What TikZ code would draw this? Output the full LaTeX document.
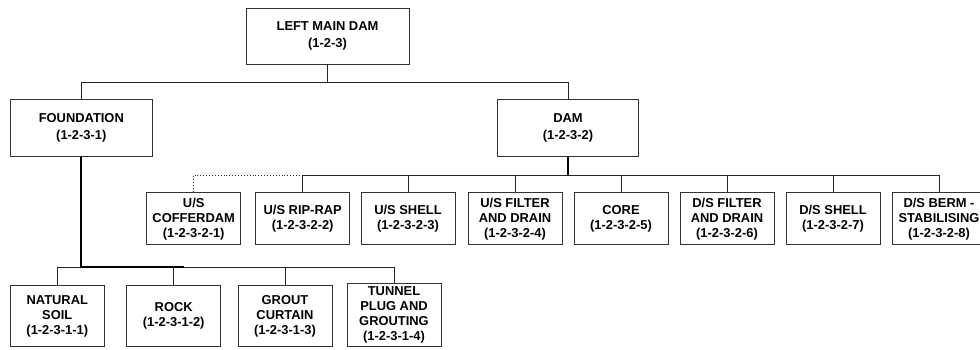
\documentclass[tikz,border=0pt]{standalone}
\usepackage{fontspec}
\setmainfont{Liberation Sans}
\usepackage{xcolor}
\usepackage{tikz}
\usetikzlibrary{positioning, calc}

\begin{document}
\begin{tikzpicture}[
    x=1pt, y=-1pt,
    unit/.style={rectangle, draw=black!80, line width=0.9pt, minimum width=94pt, minimum height=52pt, inner sep=1pt, align=center, fill=white, font=\fontsize{12.9}{15}\selectfont\bfseries},
    bigunit/.style={unit, minimum height=57pt, font=\fontsize{12.9}{16.7}\selectfont\bfseries},
    link/.style={draw=black!85, line width=0.9pt},
    trunk/.style={draw=black, line width=2pt}
]
\useasboundingbox (0,0) rectangle (980,349);

\node[bigunit, minimum width=163pt, minimum height=56pt] (dam123) at (327.5,36) {LEFT MAIN DAM\\(1-2-3)};
\node[bigunit, minimum width=142pt] (fnd) at (81.3,127.7) {FOUNDATION\\(1-2-3-1)};
\node[bigunit, minimum width=141pt] (dam) at (568,127.7) {DAM\\(1-2-3-2)};

\node[unit] (cofferdam) at (193.7,218.8) {U/S\\COFFERDAM\\(1-2-3-2-1)};
\node[unit] (riprap) at (302.7,218.8) {U/S RIP-RAP\\(1-2-3-2-2)};
\node[unit] (usshell) at (408,218.8) {U/S SHELL\\(1-2-3-2-3)};
\node[unit] (usfilter) at (515,218.8) {U/S FILTER\\AND DRAIN\\(1-2-3-2-4)};
\node[unit] (core) at (621,218.8) {CORE\\(1-2-3-2-5)};
\node[unit] (dsfilter) at (727,218.8) {D/S FILTER\\AND DRAIN\\(1-2-3-2-6)};
\node[unit] (dsshell) at (833,218.8) {D/S SHELL\\(1-2-3-2-7)};
\node[unit] (dsberm) at (939,218.8) {D/S BERM -\\STABILISING\\(1-2-3-2-8)};

\node[unit, minimum height=61pt] (soil) at (57.3,316.3) {NATURAL\\SOIL\\(1-2-3-1-1)};
\node[unit, minimum height=61pt] (rock) at (173.7,316.3) {ROCK\\(1-2-3-1-2)};
\node[unit, minimum height=61pt] (grout) at (285,316.3) {GROUT\\CURTAIN\\(1-2-3-1-3)};
\node[unit, minimum height=63pt] (tunnel) at (394,315.3) {TUNNEL\\PLUG AND\\GROUTING\\(1-2-3-1-4)};

\coordinate (topbus) at (327.5,82);
\coordinate (dambus) at (568,175);
\coordinate (fndbus) at (81.3,267);

% level 1
\draw[link] (dam123.south) -- (topbus);
\draw[link] (topbus) -| (fnd.north);
\draw[link] (topbus) -| (dam.north);

% dam parts
\draw[link, dotted] (riprap.north |- dambus) -| (cofferdam.north);
\foreach \part in {riprap, usshell, usfilter, core, dsfilter, dsshell, dsberm}
    \draw[link] (dambus) -| (\part.north);
\draw[trunk] (dam.south) -- (dambus);

% foundation parts
\foreach \part in {soil, rock, grout, tunnel}
    \draw[link] (fndbus) -| (\part.north);
\draw[trunk] (fnd.south) |- ($(fndbus)!0.33!(tunnel.north |- fndbus)$);
\end{tikzpicture}
\end{document}
